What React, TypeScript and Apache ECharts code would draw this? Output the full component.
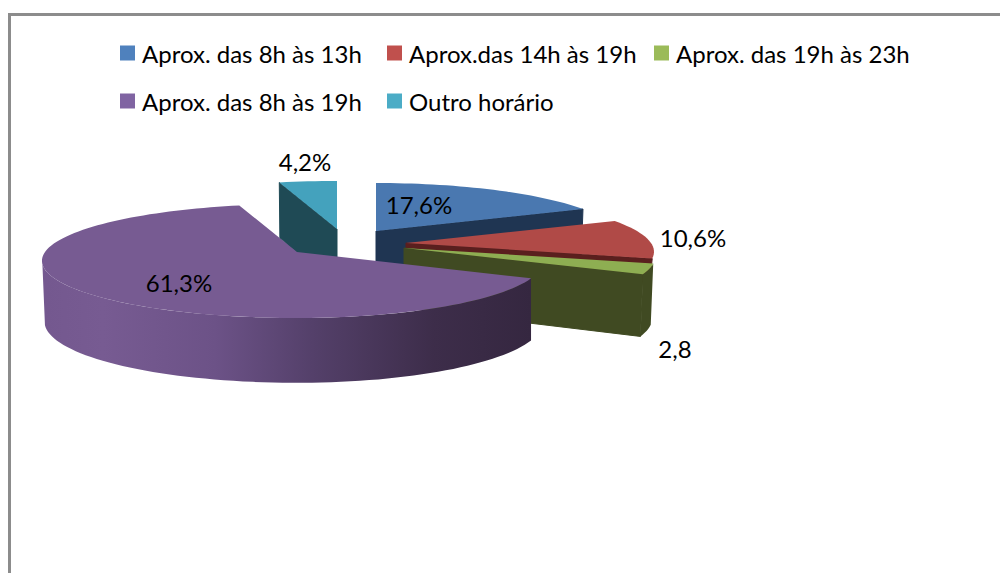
import React, { useEffect, useRef } from "react";
import * as echarts from "echarts";

const categories = [
  "Aprox. das 8h às 13h",
  "Aprox.das 14h às 19h",
  "Aprox. das 19h às 23h",
  "Aprox. das 8h às 19h",
  "Outro horário",
];
const values = [17.6, 10.6, 2.8, 61.3, 4.2];
const labels = ["17,6%", "10,6%", "2,8", "61,3%", "4,2%"];

const topColors = ["#4a78b0", "#b04a47", "#8eae52", "#775b92", "#44a2bd"];
const sideColors = ["#1f3552", "#5a1f1e", "#404a22", "#3a2a48", "#1f4a55"];
const swatchColors = ["#4f81bd", "#c0504d", "#9bbb59", "#8064a2", "#4bacc6"];

// Layout, kept apart from the data
const CENTER = [352, 245];
const OFFSETS = [[24, -14], [54, -2], [52, 3], [-55, 7], [-15, -16]];
const LABEL_POS = [[419, 204], [693, 237], [675, 348], [179, 282], [305, 161]];
const LEGEND_POS = [[120, 41], [387, 41], [654, 41], [120, 89], [387, 89]];
const DRAW_ORDER = [0, 4, 1, 2, 3];
// Faces that are turned to the viewer: [start side, end side]
const SIDE_VISIBLE = [[false, true], [false, true], [false, true], [false, false], [true, false]];
const SIDE_DEPTH = [60, 24, 60, 60, 60];
const OUTER_WALL = [false, false, true, true, false];
const RX_LEFT = 252;
const RX_RIGHT = [243, 245, 248, 243, 243];
const RY = 57;
const PERSP = 0.158;
const WALL = 60;
const WALL_PERSP = 0.08;
const BOTTOM_X = 0.99;
const WALL_TO = 258;
const FONT = "Lato";
const FONT_SIZE = 24;

const total = values.reduce((a, b) => a + b, 0);
const startAngle = (i: number) =>
  (values.slice(0, i).reduce((a, b) => a + b, 0) / total) * 360;

function rim(deg: number, i: number) {
  const t = (deg * Math.PI) / 180;
  const x = Math.sin(t);
  const yf = -Math.cos(t);
  const p = 1 + PERSP * yf;
  return {
    x: x * (x < 0 ? RX_LEFT : RX_RIGHT[i]) * p,
    y: RY * yf * p,
    h: WALL * (1 + WALL_PERSP * yf),
  };
}

function arcPoints(a: number, b: number, i: number) {
  const pts = [];
  const n = Math.max(2, Math.ceil((b - a) / 2));
  for (let k = 0; k <= n; k++) pts.push(rim(a + ((b - a) * k) / n, i));
  return pts;
}

function renderSlice(i: number) {
  return () => {
    const a = startAngle(i);
    const b = a + (values[i] / total) * 360;
    const cx = CENTER[0] + OFFSETS[i][0];
    const cy = CENTER[1] + OFFSETS[i][1];
    const side = sideColors[i];
    // The purple slice's right end drops straight down in the reference
    const lowerX = (x: number) => (i === 3 && x > 0 ? x : x * BOTTOM_X);
    const children: any[] = [];
    const sideFace = (deg: number) => {
      const r = rim(deg, i);
      const depth = SIDE_DEPTH[i] / WALL;
      children.push({
        type: "polygon",
        shape: {
          points: [
            [cx, cy],
            [cx + r.x, cy + r.y],
            [cx + lowerX(r.x), cy + r.y + r.h * depth],
            [cx, cy + SIDE_DEPTH[i]],
          ],
        },
        style: { fill: side, stroke: side, lineWidth: 1 },
      });
    };
    if (SIDE_VISIBLE[i][0]) sideFace(a);
    if (SIDE_VISIBLE[i][1]) sideFace(b);

    const wb = Math.min(b, WALL_TO);
    if (OUTER_WALL[i] && wb > a) {
      const arc = arcPoints(a, wb, i);
      const upper = arc.map((r) => [cx + r.x, cy + r.y]);
      const lower = arc.map((r) => [cx + lowerX(r.x), cy + r.y + r.h]).reverse();
      const fill =
        i === 3
          ? new echarts.graphic.LinearGradient(
              45, 0, 531, 0,
              [
                { offset: 0, color: "#74588f" },
                { offset: 0.12, color: "#775b92" },
                { offset: 0.35, color: "#6c5287" },
                { offset: 0.55, color: "#54406a" },
                { offset: 0.8, color: "#3d2d4a" },
                { offset: 1, color: "#352740" },
              ],
              true as any
            )
          : side;
      children.push({
        type: "polygon",
        shape: { points: [...upper, ...lower] },
        style: { fill },
      });
    }

    const top = arcPoints(a, b, i).map((r) => [cx + r.x, cy + r.y]);
    children.push({
      type: "polygon",
      shape: { points: [[cx, cy], ...top] },
      style: { fill: topColors[i] },
    });
    children.push({
      type: "text",
      style: {
        text: labels[i],
        x: LABEL_POS[i][0],
        y: LABEL_POS[i][1],
        fill: "#000000",
        font: `${FONT_SIZE}px "${FONT}"`,
        textAlign: "center",
        textVerticalAlign: "middle",
      },
    });
    return { type: "group", children };
  };
}

export default function App() {
  const ref = useRef<HTMLDivElement>(null);
  useEffect(() => {
    const chart = echarts.init(ref.current!, null, { renderer: "svg" });
    chart.setOption({
      animation: false,
      backgroundColor: "#ffffff",
      legend: categories.map((name, i) => ({
        data: [{ name, icon: "rect" }],
        left: LEGEND_POS[i][0],
        top: LEGEND_POS[i][1],
        padding: 0,
        itemWidth: 15,
        itemHeight: 15,
        itemGap: 0,
        selectedMode: false,
        textStyle: {
          color: "#000000",
          fontFamily: FONT,
          fontSize: FONT_SIZE,
          padding: [0, 0, 4, 2],
        },
      })),
      graphic: [
        {
          type: "polyline",
          silent: true,
          shape: { points: [[9.5, 573], [9.5, 14.5], [1000, 14.5]] },
          style: { stroke: "#8c8c8c", lineWidth: 3, fill: "none" },
        },
      ],
      series: DRAW_ORDER.map((i) => ({
        type: "custom",
        name: categories[i],
        coordinateSystem: "none",
        silent: true,
        itemStyle: { color: swatchColors[i] },
        data: [[values[i]]],
        renderItem: renderSlice(i),
      })),
    });
    return () => chart.dispose();
  }, []);
  return (
    <div
      ref={ref}
      style={{ position: "fixed", left: 0, top: 0, width: 1000, height: 573 }}
    />
  );
}
